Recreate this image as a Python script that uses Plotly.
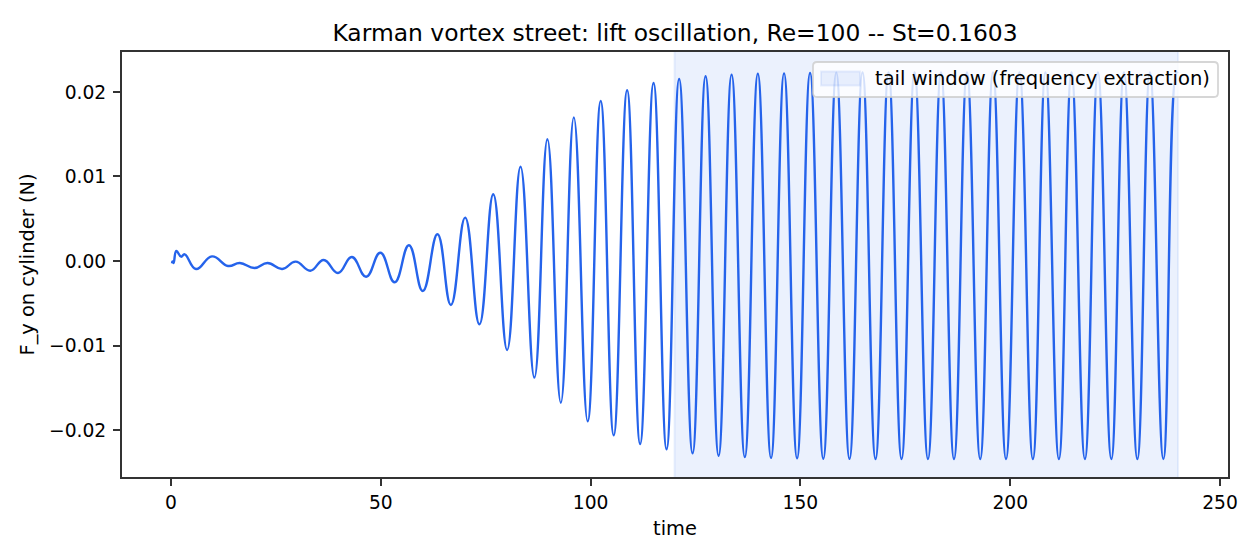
import plotly.graph_objects as go

time = [0.24, 0.35, 0.6, 1.27, 2.4, 3.26, 5.96, 9.77, 13.6, 16.4, 19.9, 23.0, 26.5, 29.7, 33.2, 36.4, 39.8, 43.1, 46.5,
        49.9, 53.3, 56.7, 60.0, 63.5, 66.7, 70.1, 73.5, 76.8, 80.1, 83.3, 86.6, 89.7, 92.9, 96.0, 99.3,
        102.4, 105.5, 108.7, 111.8, 115.0, 118.1, 121.1, 124.3, 127.4, 130.5, 133.6, 136.75, 139.85, 143.0,
        146.1, 149.2, 152.3, 155.45, 158.55, 161.7, 164.8, 167.9, 171.0, 174.1, 177.2, 180.4, 183.5, 186.6,
        189.7, 192.85, 195.9, 199.0, 202.2, 205.4, 208.4, 211.6, 214.6, 217.8, 220.9, 224.1, 227.1, 230.3,
        233.3, 236.5, 239.6, 239.9]
lift = [-0.00027, -0.00005, -0.00025, 0.00118, 0.00051, 0.00079, -0.00095, 0.00055, -0.00059, -0.00024, -0.00083,
        -0.00024, -0.00095, -0.00008, -0.00115, 0.00012, -0.00142, 0.00047, -0.00186,
        0.00098, -0.00252, 0.00186, -0.00355, 0.00316, -0.0052, 0.00513, -0.0075, 0.00789, -0.01053, 0.01116,
        -0.0138, 0.0144, -0.01677, 0.0170, -0.01897, 0.01893, -0.02063, 0.0202, -0.02166, 0.02107, -0.02228,
        0.02154, -0.02276, 0.02186, -0.02304, 0.02205, -0.0232, 0.02215, -0.0233, 0.0222, -0.02335, 0.02225,
        -0.0234, 0.02228, -0.02342, 0.0223, -0.02343, 0.0223, -0.02343, 0.0223, -0.02343, 0.0223, -0.02343,
        0.0223, -0.02343, 0.0223, -0.02343, 0.0223, -0.02343, 0.0223, -0.02343, 0.0223, -0.02343, 0.0223,
        -0.02343, 0.0223, -0.02343, 0.0223, -0.02343, 0.0223, 0.0222]
window_t = [120, 240, 240, 120, 120]
window_y = [-1, -1, 1, 1, -1]
x_ticks = [0, 50, 100, 150, 200, 250]
y_ticks = [-0.02, -0.01, 0.0, 0.01, 0.02]
title = "Karman vortex street: lift oscillation, Re=100 -- St=0.1603"
window_label = "tail window (frequency extraction)"

FONT = "DejaVu Sans"
INK = "#000000"
PAGE = 8  # body margin of the page
L, R, T, B = 122, 1228, 52, 477


def px(x):
    return (x - L) / (R - L)


def py(y):
    return (B - y) / (B - T)


def round_box(x0, y0, x1, y1, r):
    a, b, c, d = px(x0), px(x1), py(y0), py(y1)
    rx, ry = r / (R - L), r / (B - T)
    return (f"M{a + rx},{c} L{b - rx},{c} Q{b},{c} {b},{c - ry} L{b},{d + ry} Q{b},{d} {b - rx},{d} "
            f"L{a + rx},{d} Q{a},{d} {a},{d + ry} L{a},{c - ry} Q{a},{c} {a + rx},{c} Z")


fig = go.Figure()
fig.add_trace(go.Scatter(x=window_t, y=window_y, mode="lines", fill="toself",
                         fillcolor="rgba(37,99,235,0.09)",
                         line=dict(color="rgba(37,99,235,0.09)", width=2),
                         showlegend=False, hoverinfo="skip"))
fig.add_trace(go.Scatter(x=time, y=lift, mode="lines", showlegend=False,
                         line=dict(color="#2563eb", width=2.4, shape="spline", smoothing=1.3)))
axis = dict(showgrid=False, zeroline=False, showline=True, linecolor="#333333", linewidth=2,
            mirror=True, ticks="outside", ticklen=7, tickwidth=1.6, tickcolor="#333333",
            tickfont=dict(family=FONT, size=18.7, color=INK))
fig.update_layout(
    width=1252, height=552, paper_bgcolor="white", plot_bgcolor="white",
    margin=dict(l=L - PAGE, r=1260 - R, t=T - PAGE, b=560 - B, pad=0),
    title=dict(text=title, x=(675 - PAGE) / 1252, xanchor="center", y=1 - (33 - PAGE) / 552, yanchor="middle",
               font=dict(family=FONT, size=23.4, color=INK)),
    font=dict(family=FONT, color=INK),
    xaxis=dict(axis, range=[-11.68, 251.9], tickvals=x_ticks, ticktext=[str(v) for v in x_ticks],
               ticklabelstandoff=1,
               title=dict(text="time", font=dict(family=FONT, size=19.4, color=INK), standoff=9)),
    yaxis=dict(axis, range=[-0.02556, 0.02473], tickvals=y_ticks, tickformat=".2f",
               ticklabelstandoff=3,
               title=dict(text="F_y on cylinder (N)", font=dict(family=FONT, size=19.4, color=INK), standoff=9)),
    showlegend=False,
    shapes=[
        dict(type="path", xref="paper", yref="paper", layer="above",
             path=round_box(813, 62, 1218, 97, 4), fillcolor="rgba(255,255,255,0.8)",
             line=dict(color="rgba(204,204,204,0.8)", width=1.8)),
        dict(type="rect", xref="paper", yref="paper", layer="above",
             x0=px(821), x1=px(860), y0=py(85.5), y1=py(71.5), fillcolor="rgba(37,99,235,0.09)",
             line=dict(color="rgba(37,99,235,0.09)", width=2)),
    ],
    annotations=[dict(text=window_label, xref="paper", yref="paper", x=px(873), y=py(78.5),
                      xanchor="left", yanchor="middle", showarrow=False,
                      font=dict(family=FONT, size=19.5, color=INK))],
)
fig.write_html("out.html")
